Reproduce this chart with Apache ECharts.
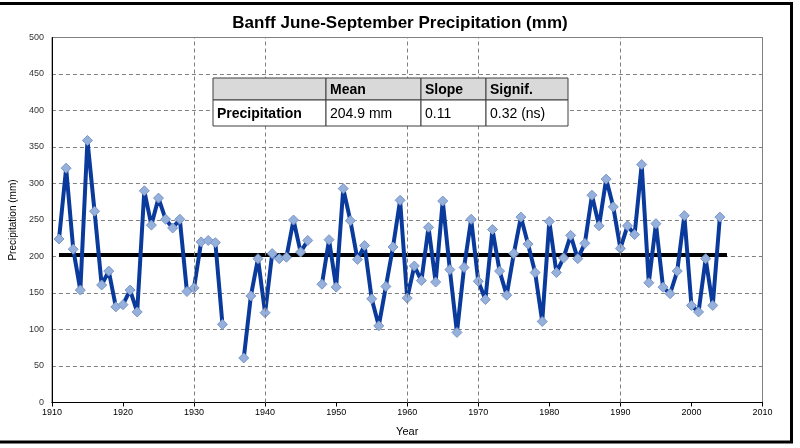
<!DOCTYPE html>
<html>
<head>
<meta charset="utf-8">
<title>Banff June-September Precipitation</title>
<script src="https://cdn.jsdelivr.net/npm/echarts@6/dist/echarts.min.js"></script>
<style>
  html, body { margin: 0; padding: 0; background: #fff; }
  #chart { width: 800px; height: 448px; }
</style>
</head>
<body>
<div id="chart"></div>
<script>
// Banff June-September precipitation (mm), 1911-2004
var years = [];
for (var y = 1911; y <= 2004; y++) years.push(y);

var precip = [
  224, 321, 210, 154, 359, 262, 161, 180, 131, 134, // 1911-1920
  154, 124, 290, 243, 280, 251, 239, 251, 152, 157, // 1921-1930
  220, 222, 219, 107, null, null, 61, 146, 197, 123, // 1931-1940
  204, 197, 199, 250, 206, 222, null, 162, 223, 158, // 1941-1950
  293, 249, 196, 215, 142, 105, 159, 213, 277, 143, // 1951-1960
  187, 167, 240, 165, 276, 182, 96, 185, 251, 166,  // 1961-1970
  141, 237, 180, 147, 204, 254, 217, 178, 111, 248, // 1971-1980
  178, 198, 229, 197, 218, 284, 242, 306, 268, 211, // 1981-1990
  242, 230, 326, 164, 245, 158, 149, 180, 256, 133, // 1991-2000
  124, 197, 133, 254                                // 2001-2004
];

// mean line as drawn
var meanYears = [1911, 2005];
var meanValue = 202;

// vertical gridlines that the original shows
var gridYears = [1930, 1940, 1960, 1970, 1990];

// stats table
var tableHeader = ['', 'Mean', 'Slope', 'Signif.'];
var tableRow = ['Precipitation', '204.9 mm', '0.11', '0.32 (ns)'];

var FONT = "'Liberation Sans Narrow', 'Liberation Sans', Arial, sans-serif";
var TFONT = "'Liberation Sans', Arial, sans-serif";

var seriesData = years.map(function (yr, i) { return [yr, precip[i]]; });
var meanData = meanYears.map(function (yr) { return [yr, meanValue]; });

// table graphic
var colX = [213, 326, 421, 486, 568];
var rowY = [78, 100, 126];
var tableEls = [];
[tableHeader, tableRow].forEach(function (row, r) {
  row.forEach(function (txt, c) {
    tableEls.push({
      type: 'rect',
      z: 100,
      shape: { x: colX[c], y: rowY[r], width: colX[c + 1] - colX[c], height: rowY[r + 1] - rowY[r] },
      style: { fill: r === 0 ? '#d9d9d9' : '#ffffff', stroke: '#3f3f3f', lineWidth: 1 }
    });
    if (txt) {
      tableEls.push({
        type: 'text',
        z: 101,
        x: colX[c] + 4,
        y: (rowY[r] + rowY[r + 1]) / 2 + 1,
        style: {
          text: txt,
          fill: '#000',
          font: ((r === 0 || c === 0) ? 'bold ' : '') + '14px ' + TFONT,
          verticalAlign: 'middle',
          align: 'left'
        }
      });
    }
  });
});

var chart = echarts.init(document.getElementById('chart'));
chart.setOption({
  animation: false,
  backgroundColor: '#fff',
  title: {
    text: 'Banff June-September Precipitation (mm)',
    left: 'center',
    top: 10,
    textStyle: { fontFamily: FONT, fontSize: 17, fontWeight: 'bold', color: '#000' }
  },
  grid: {
    left: 46.5, right: 37.5, top: 37.5, bottom: 45.5,
    show: true, borderColor: '#808080', borderWidth: 1
  },
  xAxis: {
    type: 'value',
    min: 1910, max: 2010, interval: 10,
    name: 'Year',
    nameLocation: 'middle',
    nameGap: 24,
    nameTextStyle: { fontFamily: FONT, fontSize: 11, color: '#000' },
    axisLine: { show: true, onZero: false, lineStyle: { color: '#000', width: 1 } },
    axisTick: { show: true, length: 4, lineStyle: { color: '#000' } },
    axisLabel: {
      fontFamily: FONT, fontSize: 9, color: '#000', margin: 6,
      formatter: function (v) { return String(v); }
    },
    splitLine: { show: false }
  },
  yAxis: {
    type: 'value',
    min: 0, max: 500, interval: 50,
    name: 'Precipitation (mm)',
    nameLocation: 'middle',
    nameGap: 30,
    nameTextStyle: { fontFamily: FONT, fontSize: 10, color: '#000' },
    axisLine: { show: true, lineStyle: { color: '#000', width: 1 } },
    axisTick: { show: false },
    axisLabel: { fontFamily: FONT, fontSize: 9, color: '#333', margin: 8 },
    splitLine: { show: true, lineStyle: { color: '#808080', type: [4, 3], width: 1 } }
  },
  series: [
    {
      type: 'line',
      data: meanData,
      symbol: 'none',
      lineStyle: { color: '#000', width: 4 },
      z: 1,
      silent: true,
      markLine: {
        silent: true,
        symbol: ['none', 'none'],
        label: { show: false },
        lineStyle: { color: '#808080', type: [4, 3], width: 1 },
        data: gridYears.map(function (yr) { return { xAxis: yr }; })
      }
    },
    {
      type: 'line',
      data: seriesData,
      connectNulls: false,
      symbol: 'diamond',
      symbolSize: 10,
      showAllSymbol: true,
      lineStyle: { color: '#0a3a9c', width: 4 },
      itemStyle: { color: '#96b0dc', borderColor: '#7b96c8', borderWidth: 1 },
      z: 3
    }
  ],
  graphic: [
    {
      type: 'rect',
      z: 100,
      shape: { x: -5, y: 3.5, width: 796.5, height: 438.5 },
      style: { fill: 'none', stroke: '#000', lineWidth: 3 },
      silent: true
    },
    { type: 'group', z: 100, children: tableEls }
  ]
});
</script>
</body>
</html>
